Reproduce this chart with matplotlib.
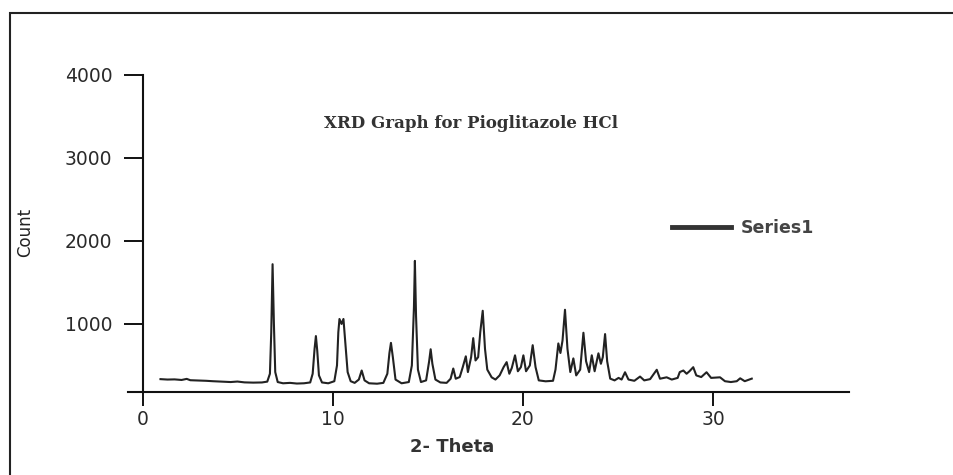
import matplotlib
matplotlib.use("Agg")
import matplotlib.pyplot as plt
from matplotlib.patches import Rectangle
import numpy as np

# XRD pattern (2-theta in degrees, intensity in counts)
two_theta = [
    0.92, 1.29, 1.66, 2.03, 2.30, 2.49, 2.95, 3.32, 3.68, 4.14, 4.61, 4.97,
    5.34, 5.80, 6.26, 6.54, 6.68, 6.75, 6.82, 6.89, 6.96, 7.09, 7.37, 7.74,
    8.10, 8.47, 8.80, 8.93, 9.03, 9.10, 9.17, 9.26, 9.42, 9.75, 10.07, 10.21,
    10.28, 10.34, 10.45, 10.55, 10.64, 10.77, 10.93, 11.14, 11.36, 11.51,
    11.66, 11.90, 12.32, 12.65, 12.86, 12.97, 13.05, 13.15, 13.29, 13.61,
    13.99, 14.15, 14.26, 14.31, 14.37, 14.47, 14.63, 14.90, 15.06, 15.14,
    15.23, 15.39, 15.65, 15.98, 16.19, 16.33, 16.46, 16.67, 16.83, 16.99,
    17.10, 17.27, 17.38, 17.50, 17.64, 17.75, 17.88, 18.00, 18.12, 18.35,
    18.55, 18.77, 18.98, 19.14, 19.28, 19.41, 19.58, 19.73, 19.89, 20.02,
    20.16, 20.36, 20.51, 20.66, 20.83, 21.19, 21.58, 21.71, 21.86, 21.97,
    22.08, 22.21, 22.34, 22.49, 22.65, 22.80, 23.01, 23.18, 23.32, 23.48,
    23.62, 23.77, 23.97, 24.10, 24.20, 24.32, 24.43, 24.59, 24.82, 25.03,
    25.19, 25.37, 25.55, 25.86, 26.16, 26.38, 26.69, 27.04, 27.21, 27.56,
    27.83, 28.14, 28.25, 28.44, 28.61, 28.76, 28.96, 29.12, 29.38, 29.66,
    29.90, 30.37, 30.63, 30.94, 31.25, 31.43, 31.67, 32.04,
]
counts = [
    335, 330, 332, 325, 338, 322, 318, 315, 310, 305, 300, 306,
    296, 293, 295, 305, 400, 900, 1720, 1000, 420, 300, 285, 290,
    282, 285, 295, 400, 700, 854, 680, 380, 295, 285, 310, 500,
    900, 1060, 1000, 1060, 800, 420, 310, 290, 330, 439,
    320, 285, 280, 290, 400, 650, 772, 600, 330, 285,
    300, 500, 1200, 1760, 1100, 450, 300, 320, 550, 695,
    520, 330, 295, 290, 340, 463, 340, 360, 480, 610,
    420, 600, 829, 560, 600, 900, 1159, 700, 450, 357,
    330, 380, 480, 540, 400, 470, 622, 430, 480, 622,
    430, 500, 744, 480, 320, 309, 315, 450, 765, 650,
    800, 1171, 700, 420, 585, 380, 450, 894, 550, 420,
    622, 430, 646, 520, 600, 878, 550, 341, 320, 350,
    330, 418, 330, 315, 366, 320, 335, 448, 340, 357,
    330, 350, 420, 439, 400, 430, 479, 380, 360, 418,
    350, 357, 310, 300, 310, 345, 310, 341,
]

x_ticks = [0, 10, 20, 30]
y_ticks = [1000, 2000, 3000, 4000]

fig = plt.figure(figsize=(9.54, 4.75), dpi=100)
W, H = 954, 475

# outer frame (only top and left edges are inside the picture)
fig.add_artist(Rectangle((10 / W, -0.2), 1.2, 1 - 13 / H + 0.2,
                         transform=fig.transFigure, fill=False,
                         edgecolor="#222222", linewidth=1.5))

ax = fig.add_axes([128 / W, 1 - 392 / H, (849 - 128) / W, (392 - 75) / H])
ax.plot(two_theta, counts, color="#222222", linewidth=1.5, label="Series1")

ax.set_xlim(-15 / 19.0, 706 / 19.0)
ax.set_ylim(180, 4000)

for s in ("top", "right"):
    ax.spines[s].set_visible(False)
ax.spines["left"].set_position(("data", 0))
for s in ("left", "bottom"):
    ax.spines[s].set_linewidth(1.5)
    ax.spines[s].set_color("#111111")

ax.set_xticks(x_ticks)
ax.set_yticks(y_ticks)
ax.tick_params(axis="y", direction="out", length=14, width=1.4, pad=8,
               labelsize=13.5, labelcolor="#2a2a2a", color="#111111")
ax.tick_params(axis="x", direction="out", length=10, width=1.4, pad=3,
               labelsize=13.5, labelcolor="#2a2a2a", color="#111111")

fig.text(25 / W, 1 - 232 / H, "Count", rotation=90, ha="center", va="center",
         fontsize=12, color="#222222")
fig.text(452 / W, 1 - 447 / H, "2- Theta", ha="center", va="center",
         fontsize=13, fontweight="bold", color="#333333")
fig.text(471 / W, 1 - 123 / H, "XRD Graph for Pioglitazole HCl",
         ha="center", va="center", fontsize=12, fontweight="bold",
         family="DejaVu Serif", color="#333333")

leg = ax.legend(loc="center left", bbox_to_anchor=(672 / W, 1 - 228 / H),
                bbox_transform=fig.transFigure, frameon=False,
                handlelength=3.4, handletextpad=0.55, borderpad=0,
                borderaxespad=0, prop={"size": 12.5, "weight": "bold"})
for ln in leg.get_lines():
    ln.set_linewidth(3.5)
    ln.set_color("#333333")
for t in leg.get_texts():
    t.set_color("#444444")

fig.savefig("out.png", dpi=100)
